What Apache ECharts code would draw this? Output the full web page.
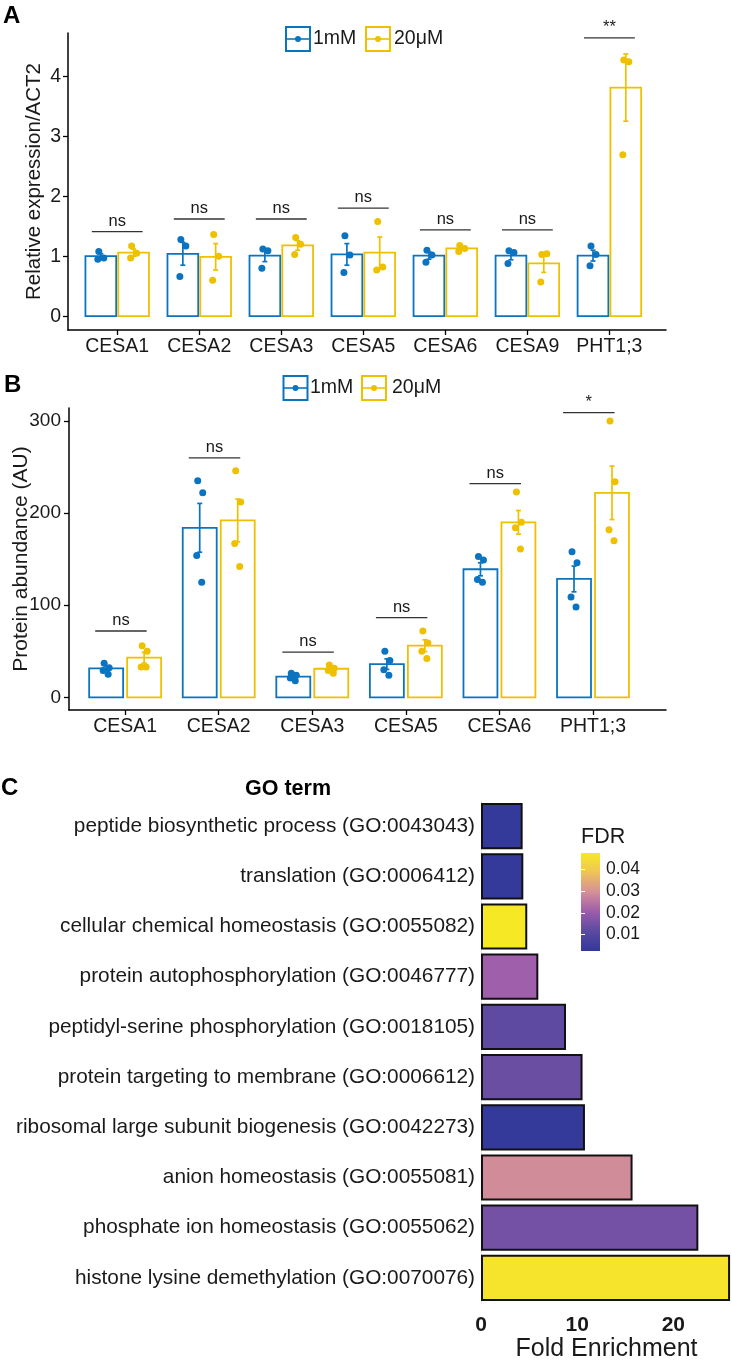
<!DOCTYPE html>
<html><head><meta charset="utf-8">
<script src="https://cdn.jsdelivr.net/npm/echarts@6/dist/echarts.min.js"></script>
<style>html,body{margin:0;padding:0;background:#fff}#c{width:732px;height:1366px}</style>
</head><body><div id="c"></div>
<script>
// ---------- Panel A : relative expression ----------
const genesA = ['CESA1','CESA2','CESA3','CESA5','CESA6','CESA9','PHT1;3'];
const meanA_1mM  = [1.00, 1.04, 1.01, 1.03, 1.01, 1.01, 1.01];
const seA_1mM    = [0.04, 0.19, 0.10, 0.18, 0.06, 0.07, 0.09];
const meanA_20uM = [1.06, 0.99, 1.18, 1.06, 1.13, 0.88, 3.81];
const seA_20uM   = [0.06, 0.22, 0.08, 0.26, 0.03, 0.15, 0.56];
const ptsA_1mM  = [[1.08,0.97,0.95],[1.28,1.17,0.66],[1.12,1.09,0.80],[1.34,1.02,0.73],[1.10,1.02,0.90],[1.09,1.06,0.88],[1.17,1.03,0.84]];
const ptsA_20uM = [[1.17,1.05,0.97],[1.36,1.00,0.60],[1.31,1.20,1.03],[1.58,0.82,0.77],[1.18,1.13,1.08],[1.03,1.04,0.57],[4.27,4.24,2.69]];
const sigA_y   = [1.41, 1.62, 1.62, 1.80, 1.44, 1.44, 4.64];
const sigA_lab = ['ns','ns','ns','ns','ns','ns','**'];
const yTicksA  = [0, 1, 2, 3, 4];

// ---------- Panel B : protein abundance ----------
const genesB = ['CESA1','CESA2','CESA3','CESA5','CESA6','PHT1;3'];
const meanB_1mM  = [31.5, 184, 22.5, 36, 139, 128.5];
const seB_1mM    = [2.5, 26.5, 1.8, 5.7, 7.1, 14];
const meanB_20uM = [43, 192, 31, 56, 190, 222];
const seB_20uM   = [5.8, 23.2, 1.9, 6.4, 12.8, 29];
const ptsB_1mM  = [[37,32,29,25],[235,222,154,125],[26,24,21,18],[50,40,30,24],[153,149,128,125],[158,146,109,98]];
const ptsB_20uM = [[56,50,33,33],[246,212,167,142],[35,31.5,29,26],[72,59,50,42],[223,190,184,161],[300,234,182,170]];
const sigB_y   = [72, 260, 49, 86.5, 232, 309];
const sigB_lab = ['ns','ns','ns','ns','ns','*'];
const yTicksB  = [0, 100, 200, 300];

// ---------- Panel C : GO enrichment ----------
const goTerms = [
  'peptide biosynthetic process (GO:0043043)',
  'translation (GO:0006412)',
  'cellular chemical homeostasis (GO:0055082)',
  'protein autophosphorylation (GO:0046777)',
  'peptidyl-serine phosphorylation (GO:0018105)',
  'protein targeting to membrane (GO:0006612)',
  'ribosomal large subunit biogenesis (GO:0042273)',
  'anion homeostasis (GO:0055081)',
  'phosphate ion homeostasis (GO:0055062)',
  'histone lysine demethylation (GO:0070076)'
];
const foldEnrichment = [4.33, 4.40, 4.81, 5.96, 8.84, 10.56, 10.81, 15.76, 22.6, 25.9];
const fdr            = [0.003, 0.003, 0.047, 0.021, 0.012, 0.0135, 0.003, 0.029, 0.015, 0.046];
const fdrTicks  = [0.01, 0.02, 0.03, 0.04];
const foldTicks = [0, 10, 20];

// ---------- styles ----------
const BLUE = '#0a74c0', YEL = '#EFC000', INK = '#1a1a1a';
const FONT = "'Liberation Sans', Arial, Helvetica, sans-serif";
const FDR_MIN = 0.0025, FDR_MAX = 0.0475;
const cbColors = ['#32399a', '#5a4aa0', '#9c5cab', '#d48f98', '#eec35a', '#f6ea22'];
const JIT = [-2, 3, -3, 2];

function barRender(dodge, width) {
  return function (params, api) {
    const x = api.value(0), m = api.value(1), se = api.value(2), g = api.value(3);
    const color = g === 0 ? BLUE : YEL;
    const xc = x + (g === 0 ? -dodge : dodge);
    const p0 = api.coord([xc, 0]), p1 = api.coord([xc, m]);
    const w = api.size([width, 0])[0];
    const eT = api.coord([xc, m + se]), eB = api.coord([xc, m - se]);
    const cap = 2.5;
    return { type: 'group', children: [
      { type: 'rect', shape: { x: p0[0] - w / 2, y: p1[1], width: w, height: p0[1] - p1[1] },
        style: { fill: 'rgba(255,255,255,0)', stroke: color, lineWidth: 1.8 } },
      { type: 'line', shape: { x1: eT[0], y1: eT[1], x2: eB[0], y2: eB[1] }, style: { stroke: color, lineWidth: 1.7 } },
      { type: 'line', shape: { x1: eT[0] - cap, y1: eT[1], x2: eT[0] + cap, y2: eT[1] }, style: { stroke: color, lineWidth: 1.7 } },
      { type: 'line', shape: { x1: eB[0] - cap, y1: eB[1], x2: eB[0] + cap, y2: eB[1] }, style: { stroke: color, lineWidth: 1.7 } }
    ]};
  };
}
function sigRender(labels, left, right) {
  return function (params, api) {
    const x = api.value(0), y = api.value(1);
    const a = api.coord([x - left, y]), b = api.coord([x + right, y]);
    return { type: 'group', children: [
      { type: 'line', shape: { x1: a[0], y1: a[1], x2: b[0], y2: b[1] }, style: { stroke: '#333', lineWidth: 1.3 } },
      { type: 'text', style: { text: labels[params.dataIndex], x: (a[0] + b[0]) / 2, y: a[1] - 2,
        align: 'center', verticalAlign: 'bottom', fontSize: 16.5, fontFamily: FONT, fill: INK } }
    ]};
  };
}
function barData(means, ses, g) { return means.map((m, i) => [i + 1, m, ses[i], g]); }
function pointData(pts, g, dodge) {
  const out = [];
  pts.forEach((arr, i) => arr.forEach((v, j) => out.push({ value: [i + 1 + (g ? dodge : -dodge), v], symbolOffset: [JIT[j % JIT.length], 0] })));
  return out;
}
function legendGroup(x0, xt2, yc, x1, xt1) {
  const box = (x, c) => [
    { type: 'rect', shape: { x: x, y: yc - 12, width: 24, height: 24 }, style: { fill: '#fff', stroke: c, lineWidth: 2 } },
    { type: 'line', shape: { x1: x, y1: yc, x2: x + 24, y2: yc }, style: { stroke: c, lineWidth: 1.6 } },
    { type: 'circle', shape: { cx: x + 12, cy: yc, r: 3 }, style: { fill: c } }
  ];
  return [].concat(
    box(x0, BLUE),
    [{ type: 'text', style: { text: '1mM', x: xt1, y: yc, verticalAlign: 'middle', fontSize: 19.5, fontFamily: FONT, fill: INK } }],
    box(x1, YEL),
    [{ type: 'text', style: { text: '20μM', x: xt2, y: yc, verticalAlign: 'middle', fontSize: 19.5, fontFamily: FONT, fill: INK } }]
  );
}

const axisLineBlack = { show: true, onZero: false, lineStyle: { color: '#000', width: 1.5 } };
const tickBlack = { show: true, length: 5, lineStyle: { color: '#000', width: 1.3 } };

const option = {
  animation: false,
  backgroundColor: '#fff',
  textStyle: { fontFamily: FONT },
  title: [
    { text: 'A', left: 3, top: 4, padding: 0, textStyle: { fontSize: 24, fontWeight: 'bold', color: '#000' } },
    { text: 'B', left: 4, top: 373, padding: 0, textStyle: { fontSize: 24, fontWeight: 'bold', color: '#000' } },
    { text: 'C', left: 1, top: 776, padding: 0, textStyle: { fontSize: 24, fontWeight: 'bold', color: '#000' } },
    { text: 'GO term', left: 245, top: 778, padding: 0, textStyle: { fontSize: 21.5, fontWeight: 'bold', color: '#000' } },
    { text: 'FDR', left: 581, top: 826, padding: 0, textStyle: { fontSize: 21.5, fontWeight: 'normal', color: INK } }
  ],
  graphic: legendGroup(286, 394, 39, 366, 313).concat(legendGroup(283.5, 392, 388, 362, 310)),
  grid: [
    { left: 68, top: 33, width: 598, height: 297, outerBoundsMode: 'none', containLabel: false },
    { left: 69, top: 408, width: 597, height: 302, outerBoundsMode: 'none', containLabel: false },
    { left: 481, top: 801, width: 251, height: 502, outerBoundsMode: 'none', containLabel: false },
    { left: 581, top: 853, width: 19, height: 98, outerBoundsMode: 'none', containLabel: false }
  ],
  xAxis: [
    { type: 'value', gridIndex: 0, min: 0.4, max: 7.69, axisLine: axisLineBlack, splitLine: { show: false },
      axisTick: Object.assign({ customValues: genesA.map((g, i) => i + 1) }, tickBlack),
      axisLabel: { customValues: genesA.map((g, i) => i + 1), formatter: v => genesA[Math.round(v) - 1], fontSize: 19.5, color: INK, margin: 7 } },
    { type: 'value', gridIndex: 1, min: 0.4, max: 6.78, axisLine: axisLineBlack, splitLine: { show: false },
      axisTick: Object.assign({ customValues: genesB.map((g, i) => i + 1) }, tickBlack),
      axisLabel: { customValues: genesB.map((g, i) => i + 1), formatter: v => genesB[Math.round(v) - 1], fontSize: 19.5, color: INK, margin: 7 } },
    { type: 'value', gridIndex: 2, min: 0, max: 26.1, axisLine: { show: false }, axisTick: { show: false }, splitLine: { show: false },
      axisLabel: { customValues: foldTicks, fontSize: 21, fontWeight: 'bold', color: INK, margin: 12 },
      name: 'Fold Enrichment', nameLocation: 'middle', nameGap: 34, nameMoveOverlap: false, nameTextStyle: { fontSize: 25, color: INK } },
    { type: 'value', gridIndex: 3, min: 0, max: 1, show: false }
  ],
  yAxis: [
    { type: 'value', gridIndex: 0, min: -0.23, max: 4.72, axisLine: axisLineBlack, splitLine: { show: false },
      axisTick: Object.assign({ customValues: yTicksA }, tickBlack),
      axisLabel: { customValues: yTicksA, fontSize: 19.5, color: INK, margin: 7 },
      name: 'Relative expression/ACT2', nameLocation: 'middle', nameGap: 23, nameMoveOverlap: false, nameTextStyle: { fontSize: 20.5, color: INK } },
    { type: 'value', gridIndex: 1, min: -13.8, max: 314.1, axisLine: axisLineBlack, splitLine: { show: false },
      axisTick: Object.assign({ customValues: yTicksB }, tickBlack),
      axisLabel: { customValues: yTicksB, fontSize: 19, color: INK, margin: 8 },
      name: 'Protein abundance (AU)', nameLocation: 'middle', nameGap: 37, nameMoveOverlap: false, nameTextStyle: { fontSize: 21, color: INK } },
    { type: 'category', gridIndex: 2, data: goTerms, inverse: true,
      axisLine: { show: true, lineStyle: { color: '#e6e6e6', width: 1 } }, axisTick: { show: false },
      axisLabel: { fontSize: 20.8, color: INK, margin: 6, padding: [0, 0, 8, 0] } },
    { type: 'value', gridIndex: 3, min: FDR_MIN, max: FDR_MAX, position: 'right', z: 10,
      axisLine: { show: false }, splitLine: { show: false },
      axisTick: { show: true, inside: true, length: 4, customValues: fdrTicks, lineStyle: { color: '#fff', width: 1 } },
      axisLabel: { customValues: fdrTicks, fontSize: 17.5, color: INK, margin: 6, formatter: v => v.toFixed(2) } },
    { type: 'value', gridIndex: 3, min: FDR_MIN, max: FDR_MAX, position: 'left', z: 10,
      axisLine: { show: false }, splitLine: { show: false }, axisLabel: { show: false },
      axisTick: { show: true, inside: true, length: 4, customValues: fdrTicks, lineStyle: { color: '#fff', width: 1 } } }
  ],
  visualMap: [{ type: 'continuous', show: false, seriesIndex: 10, dimension: 2, min: FDR_MIN, max: FDR_MAX, inRange: { color: cbColors } }],
  series: [
    // Panel A
    { type: 'custom', xAxisIndex: 0, yAxisIndex: 0, renderItem: barRender(0.2, 0.375), data: barData(meanA_1mM, seA_1mM, 0).concat(barData(meanA_20uM, seA_20uM, 1)), z: 2 },
    { type: 'scatter', xAxisIndex: 0, yAxisIndex: 0, symbolSize: 7, itemStyle: { color: BLUE, opacity: 1 }, data: pointData(ptsA_1mM, 0, 0.2), z: 3 },
    { type: 'scatter', xAxisIndex: 0, yAxisIndex: 0, symbolSize: 7, itemStyle: { color: YEL, opacity: 1 }, data: pointData(ptsA_20uM, 1, 0.2), z: 3 },
    { type: 'custom', xAxisIndex: 0, yAxisIndex: 0, renderItem: sigRender(sigA_lab, 0.31, 0.31), data: sigA_y.map((y, i) => [i + 1, y]), z: 3 },
    // Panel B
    { type: 'custom', xAxisIndex: 1, yAxisIndex: 1, renderItem: barRender(0.203, 0.363), data: barData(meanB_1mM, seB_1mM, 0).concat(barData(meanB_20uM, seB_20uM, 1)), z: 2 },
    { type: 'scatter', xAxisIndex: 1, yAxisIndex: 1, symbolSize: 7, itemStyle: { color: BLUE, opacity: 1 }, data: pointData(ptsB_1mM, 0, 0.203), z: 3 },
    { type: 'scatter', xAxisIndex: 1, yAxisIndex: 1, symbolSize: 7, itemStyle: { color: YEL, opacity: 1 }, data: pointData(ptsB_20uM, 1, 0.203), z: 3 },
    { type: 'custom', xAxisIndex: 1, yAxisIndex: 1, renderItem: sigRender(sigB_lab, 0.32, 0.23), data: sigB_y.map((y, i) => [i + 1, y]), z: 3 },
    // colorbar
    { type: 'custom', xAxisIndex: 3, yAxisIndex: 3, z: 1, data: [[0, FDR_MIN]],
      renderItem: function (params, api) {
        const p0 = api.coord([0, FDR_MIN]), p1 = api.coord([1, FDR_MAX]);
        return { type: 'rect', shape: { x: p0[0], y: p1[1], width: p1[0] - p0[0], height: p0[1] - p1[1] },
          style: { fill: new echarts.graphic.LinearGradient(0, 1, 0, 0, cbColors.map((c, i) => ({ offset: i / (cbColors.length - 1), color: c }))) } };
      } },
    { type: 'scatter', xAxisIndex: 3, yAxisIndex: 3, data: [], silent: true },
    // Panel C bars
    { type: 'bar', xAxisIndex: 2, yAxisIndex: 2, barCategoryGap: '8%',
      itemStyle: { borderColor: '#111', borderWidth: 2 },
      encode: { x: 0, y: 1 },
      data: goTerms.map((t, i) => [foldEnrichment[i], t, fdr[i]]) }
  ]
};
const chart = echarts.init(document.getElementById('c'), null, { renderer: 'canvas', width: 732, height: 1366 });
chart.setOption(option);
</script>
</body></html>
